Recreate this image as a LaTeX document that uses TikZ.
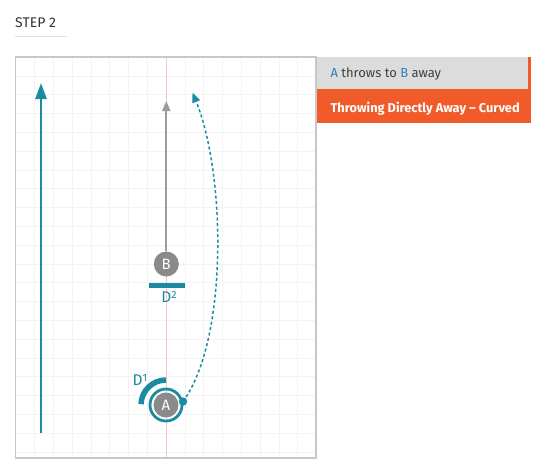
\documentclass[tikz,border=0pt]{standalone}
\usepackage{fontspec}
\setmainfont{Fira Sans}
\usetikzlibrary{arrows.meta}
\definecolor{throwteal}{HTML}{1A8BA0}
\definecolor{ballgray}{HTML}{8A8A8A}
\definecolor{gridgray}{HTML}{F3F3F3}
\definecolor{framegray}{HTML}{C8C8C8}
\definecolor{tabgray}{HTML}{DCDCDC}
\definecolor{taborange}{HTML}{F15A29}
\definecolor{midline}{HTML}{F7C9BF}
\definecolor{letterblue}{HTML}{2A7FC0}
\newcommand{\dsup}[1]{\raisebox{4.5pt}{\fontsize{10.5}{10}\selectfont #1}}
\tikzset{
  player/.style={circle, fill=ballgray, text=white, minimum size=25pt, inner sep=0pt,
    font=\fontsize{15}{15}\selectfont},
  dlabel/.style={text=throwteal, font=\fontsize{15.5}{15}\selectfont},
  tabtext/.style={anchor=base west, font=\fontsize{13}{15}\selectfont}
}
\begin{document}
\begin{tikzpicture}[x=1pt, y=-1pt]
  \useasboundingbox (0,0) rectangle (551,467);
  \node[anchor=base west, inner sep=0pt, text=black!80, font=\fontsize{14}{15}\selectfont] (step) at (15,27) {STEP 2};
  \draw[gridgray!60!framegray, line width=1pt] (15,36) -- (67,36);
  \fill[white] (15.5,57) rectangle (316,458);
  \foreach \i in {0,...,14}
    \draw[gridgray, line width=0.9pt] (34.7+18.8*\i,57) -- (34.7+18.8*\i,458);
  \foreach \j in {0,...,20}
    \draw[gridgray, line width=0.9pt] (15.5,76+18.8*\j) -- (316,76+18.8*\j);
  \draw[midline, line width=0.8pt] (166.3,57) -- (166.3,458);
  \draw[framegray, line width=1.2pt] (15.5,57) rectangle (316,458);
  \fill[tabgray] (316.6,57) rectangle (528,89);
  \fill[taborange] (528,57) rectangle (530.5,89);
  \fill[taborange] (316.6,89) rectangle (530.5,123);
  \node[tabtext, text=black!75] (tab1) at (327,77.5) {\textcolor{letterblue}{A} throws to \textcolor{letterblue}{B} away};
  \node[tabtext, text=white, font=\fontsize{12.8}{15}\bfseries\selectfont] (tab2) at (327,112) {Throwing Directly Away – Curved};
  \coordinate (runstart) at (41,433);
  \coordinate (runend) at (41,83);
  \draw[throwteal, line width=2.5pt, -{Triangle[length=16pt, width=11pt]}] (runstart) -- (runend);
  \node[player] (B) at (166.3,264) {B};
  \coordinate (lookend) at (166.3,101);
  \draw[ballgray!85, line width=2pt, -{Triangle[length=10pt, width=8pt]}] (B) -- (lookend);
  \draw[throwteal, line width=5pt] (148.5,285) -- (184.5,285);
  \node[dlabel] (D2) at (169,297) {D\dsup{2}};
  \node[player] (A) at (166,405) {A};
  \draw[throwteal, line width=2.8pt] (A) circle (16);
  \draw[throwteal, line width=5.5pt] (A.center) ++(0,-25) arc[start angle=-90, end angle=-178, radius=25];
  \node[dlabel] (D1) at (140,380) {D\dsup{1}};
  \fill[throwteal] (183,401.5) circle (4.2);
  \coordinate (release) at (183,401.5);
  \coordinate (catch) at (192.5,92.5);
  \draw[throwteal, line width=1.5pt, dash pattern=on 3pt off 2.5pt, -{Triangle[length=10pt, width=8pt]}]
    (release) .. controls (228,340) and (226,175) .. (catch);
\end{tikzpicture}
\end{document}
